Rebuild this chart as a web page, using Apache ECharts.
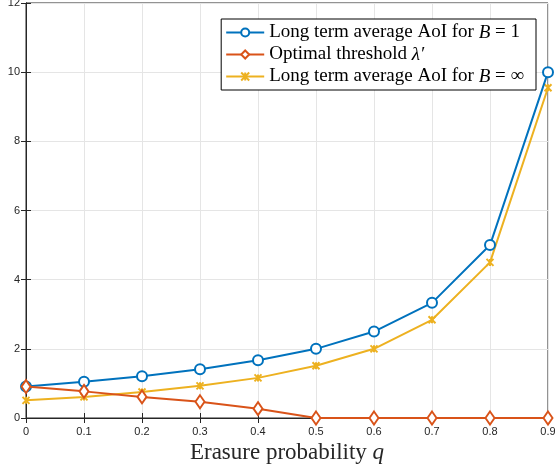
<!DOCTYPE html>
<html><head><meta charset="utf-8">
<script src="https://cdn.jsdelivr.net/npm/echarts@6/dist/echarts.min.js"></script>
<style>html,body{margin:0;padding:0;background:#fff}#c{width:555px;height:466px}</style>
</head><body><div id="c"></div>
<script>
const qValues = [0, 0.1, 0.2, 0.3, 0.4, 0.5, 0.6, 0.7, 0.8, 0.9];
const aoiB1 = [0.91, 1.05, 1.21, 1.41, 1.67, 2.0, 2.5, 3.33, 5.0, 10.0];
const lambdaOpt = [0.91, 0.77, 0.61, 0.47, 0.27, 0, 0, 0, 0, 0];
const aoiBInf = [0.51, 0.61, 0.75, 0.93, 1.16, 1.51, 2.0, 2.84, 4.5, 9.55];
const yTicks = [0, 2, 4, 6, 8, 10, 12];

const BLUE = '#0072BD', ORANGE = '#D95319', YELLOW = '#EDB120';
const AX = '#262626';
const serif = 'Liberation Serif';
const LF = 19;
const rich = {
  n: {fontFamily: serif, fontSize: LF, color: '#000'},
  i: {fontFamily: serif, fontSize: LF, fontStyle: 'italic', color: '#000'}
};
const names = ['aoi1', 'lam', 'aoiInf'];
const labels = {
  aoi1: '{n|Long term average AoI for }{i|B}{n| = 1}',
  lam: '{n|Optimal threshold }{i|λ′}',
  aoiInf: '{n|Long term average AoI for }{i|B}{n| = ∞}'
};
function pairs(arr){ return qValues.map((q,i)=>[q, arr[i]]); }

const chart = echarts.init(document.getElementById('c'));
chart.setOption({
  animation: false,
  grid: {left: 26, right: 7, top: 3, bottom: 48, show: true, borderColor: AX, borderWidth: 1, outerBoundsMode: 'none', containLabel: false},
  legend: {
    orient: 'vertical', right: 19, top: 19,
    itemWidth: 38, itemHeight: 10, itemGap: 3,
    padding: [4, 12, 4, 4],
    borderColor: '#000', borderWidth: 1, backgroundColor: '#fff', borderRadius: 0,
    data: names,
    formatter: n => labels[n],
    textStyle: {rich: rich}
  },
  xAxis: [{
    type: 'value', min: 0, max: 0.9, interval: 0.1,
    name: '{n|Erasure probability }{i|q}', nameLocation: 'middle', nameGap: 17,
    nameTextStyle: {rich: {n: {fontFamily: serif, fontSize: 23, color: AX}, i: {fontFamily: serif, fontSize: 23, fontStyle: 'italic', color: AX}}},
    axisLine: {show: true, lineStyle: {color: AX}},
    axisTick: {show: true, inside: true, length: 5, lineStyle: {color: AX}},
    axisLabel: {color: AX, fontFamily: 'Liberation Sans', fontSize: 11, margin: 8,
      formatter: v => (Math.round(v*10)/10).toString()},
    splitLine: {show: true, lineStyle: {color: '#e5e5e5'}}
  }, {
    type: 'value', position: 'top', min: 0, max: 0.9, interval: 0.1,
    axisLine: {show: true, lineStyle: {color: AX}},
    axisTick: {show: true, inside: true, length: 5, lineStyle: {color: AX}},
    axisLabel: {show: false}, splitLine: {show: false}
  }],
  yAxis: [{
    type: 'value', min: yTicks[0], max: yTicks[yTicks.length-1], interval: 2,
    axisLine: {show: true, lineStyle: {color: AX}},
    axisTick: {show: true, inside: true, length: 5, lineStyle: {color: AX}},
    axisLabel: {color: AX, fontFamily: 'Liberation Sans', fontSize: 11, margin: 6},
    splitLine: {show: true, lineStyle: {color: '#e5e5e5'}}
  }, {
    type: 'value', position: 'right', min: 0, max: 12, interval: 2,
    axisLine: {show: true, lineStyle: {color: AX}},
    axisTick: {show: true, inside: true, length: 5, lineStyle: {color: AX}},
    axisLabel: {show: false}, splitLine: {show: false}
  }],
  series: [
    {name: 'aoi1', type: 'line', data: pairs(aoiB1), symbol: 'circle', symbolSize: 10,
      lineStyle: {color: BLUE, width: 2}, itemStyle: {color: '#fff', borderColor: BLUE, borderWidth: 2}, z: 3},
    {name: 'lam', type: 'line', data: pairs(lambdaOpt), symbol: 'diamond', symbolSize: [9, 13],
      lineStyle: {color: ORANGE, width: 2}, itemStyle: {color: '#fff', borderColor: ORANGE, borderWidth: 2}, z: 4},
    {name: 'aoiInf', type: 'line', data: pairs(aoiBInf), symbol: 'path://M0,0L10,10M10,0L0,10M5,0L5,10', symbolSize: 7,
      lineStyle: {color: YELLOW, width: 2}, itemStyle: {color: 'none', borderColor: YELLOW, borderWidth: 2}, z: 2}
  ]
});
</script></body></html>
